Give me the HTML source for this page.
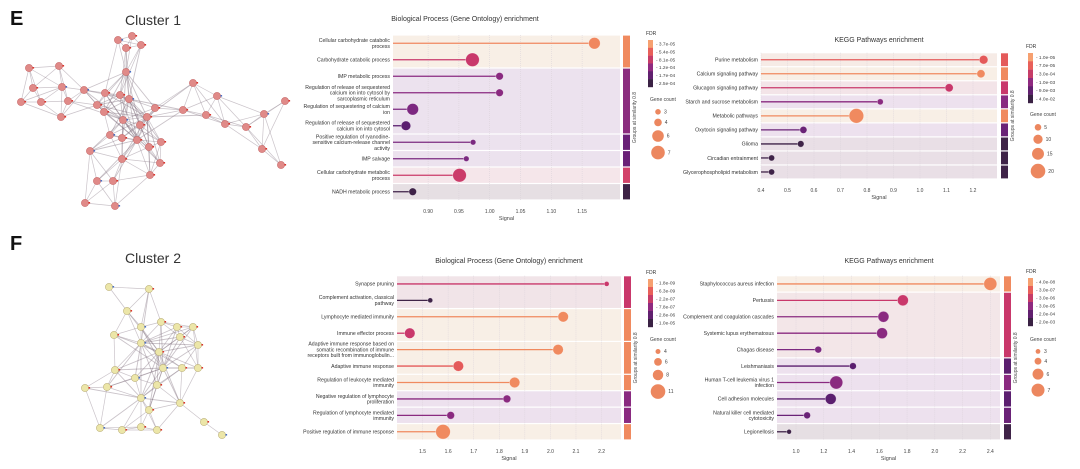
<!DOCTYPE html>
<html><head><meta charset="utf-8">
<style>
html,body{margin:0;padding:0;background:#fff;}
svg{display:block;font-family:"Liberation Sans",sans-serif;}
</style></head>
<body>
<svg id="fig" width="1080" height="469" viewBox="0 0 1080 469" xmlns="http://www.w3.org/2000/svg">
<text x="10" y="25" font-size="20" font-weight="bold" fill="#111">E</text>
<text x="153" y="25" font-size="14" fill="#333" text-anchor="middle">Cluster 1</text>
<text x="10" y="250" font-size="20" font-weight="bold" fill="#111">F</text>
<text x="153" y="263" font-size="14" fill="#333" text-anchor="middle">Cluster 2</text>
<g id="net1"></g>
<g id="net2"></g>
<g id="charts"></g>
</svg>
<script>
// ---- Chart data ----
const go1Labels = [["Cellular carbohydrate catabolic","process"],["Carbohydrate catabolic process"],["IMP metabolic process"],["Regulation of release of sequestered","calcium ion into cytosol by","sarcoplasmic reticulum"],["Regulation of sequestering of calcium","ion"],["Regulation of release of sequestered","calcium ion into cytosol"],["Positive regulation of ryanodine-","sensitive calcium-release channel","activity"],["IMP salvage"],["Cellular carbohydrate metabolic","process"],["NADH metabolic process"]];
const go1Signal = [1.17,0.972,1.016,1.016,0.875,0.864,0.973,0.962,0.951,0.875];
const go1Count = [6,7,4,4,6,5,3,3,7,4];
const go1Color = ["#f0875f","#c9386b","#8a2a80","#8a2a80","#7c2880","#5b1f6f","#7b2a80","#7b2a80","#cb3b69","#3f2348"];
const go1Groups = [2,4,1,1,1,1];
const go1GroupColor = ["#f08a5f","#8b2e7e","#6a2277","#6a2277","#d2436a","#3d2245"];
const go1GroupBg = ["#f8efe6","#ece2ee","#ece2ee","#ece2ee","#f5e6ea","#e6dfe3"];
const go1Ticks = [0.90,0.95,1.00,1.05,1.10,1.15];
const go1FdrTicks = ["3.7e-05","5.4e-05","8.1e-05","1.2e-04","1.7e-04","2.5e-04"];
const go1CountTicks = [3,4,6,7];

const kg1Labels = [["Purine metabolism"],["Calcium signaling pathway"],["Glucagon signaling pathway"],["Starch and sucrose metabolism"],["Metabolic pathways"],["Oxytocin signaling pathway"],["Glioma"],["Circadian entrainment"],["Glycerophospholipid metabolism"]];
const kg1Signal = [1.24,1.23,1.11,0.85,0.76,0.56,0.55,0.44,0.44];
const kg1Count = [9,8,8,4,20,6,5,4,4];
const kg1Color = ["#e45a5a","#f08a5f","#c9386b","#8a2a80","#f08a5f","#6a2277","#3f2348","#3f2348","#3f2348"];
const kg1Groups = [1,1,1,1,1,1,1,1,1];
const kg1GroupColor = ["#e45a5a","#f08a5f","#c9386b","#8a2a80","#f08a5f","#6a2277","#3f2348","#3f2348","#3f2348"];
const kg1GroupBg = ["#f6ebe6","#f8efe6","#f3e4e8","#ede1ee","#f8efe6","#ede1ee","#e9dfe6","#e9dfe6","#e9dfe6"];
const kg1Ticks = [0.4,0.5,0.6,0.7,0.8,0.9,1.0,1.1,1.2];
const kg1FdrTicks = ["1.0e-05","7.0e-05","3.0e-04","1.0e-03","9.0e-03","4.0e-02"];
const kg1CountTicks = [5,10,15,20];

const go2Labels = [["Synapse pruning"],["Complement activation, classical","pathway"],["Lymphocyte mediated immunity"],["Immune effector process"],["Adaptive immune response based on","somatic recombination of immune","receptors built from immunoglobulin..."],["Adaptive immune response"],["Regulation of leukocyte mediated","immunity"],["Negative regulation of lymphocyte","proliferation"],["Regulation of lymphocyte mediated","immunity"],["Positive regulation of immune response"]];
const go2Signal = [2.22,1.53,2.05,1.45,2.03,1.64,1.86,1.83,1.61,1.58];
const go2Count = [4,4,8,8,8,8,8,6,6,11];
const go2Color = ["#c9386b","#3f2348","#f08a5f","#c9386b","#f08a5f","#e45a5a","#f08a5f","#8a2a80","#8a2a80","#f08a5f"];
const go2Groups = [2,2,2,1,1,1,1];
const go2GroupColor = ["#c9386b","#f08a5f","#f08a5f","#f08a5f","#8a2a80","#8a2a80","#f08a5f"];
const go2GroupBg = ["#f1e4e8","#f8efe6","#f8efe6","#f8efe6","#ede1ee","#ede1ee","#f8efe6"];
const go2Ticks = [1.5,1.6,1.7,1.8,1.9,2.0,2.1,2.2];
const go2FdrTicks = ["1.8e-09","6.3e-09","2.2e-07","7.8e-07","2.8e-06","1.0e-05"];
const go2CountTicks = [4,6,8,11];

const kg2Labels = [["Staphylococcus aureus infection"],["Pertussis"],["Complement and coagulation cascades"],["Systemic lupus erythematosus"],["Chagas disease"],["Leishmaniasis"],["Human T-cell leukemia virus 1","infection"],["Cell adhesion molecules"],["Natural killer cell mediated","cytotoxicity"],["Legionellosis"]];
const kg2Signal = [2.40,1.77,1.63,1.62,1.16,1.41,1.29,1.25,1.08,0.95];
const kg2Count = [7,6,6,6,4,4,7,6,4,3];
const kg2Color = ["#f08a5f","#c9386b","#8a2a80","#8a2a80","#7c2880","#5b1f6f","#8a2a80","#5b1f6f","#6a2277","#3f2348"];
const kg2Groups = [1,4,1,1,1,1,1];
const kg2GroupColor = ["#f08a5f","#c9386b","#5b1f6f","#8a2a80","#5b1f6f","#6a2277","#3f2348"];
const kg2GroupBg = ["#f8efe6","#f3e6e8","#ede1ee","#ede1ee","#ede1ee","#ede1ee","#e6dfe3"];
const kg2Ticks = [1.0,1.2,1.4,1.6,1.8,2.0,2.2,2.4];
const kg2FdrTicks = ["4.0e-08","3.0e-07","3.0e-06","3.0e-05","2.0e-04","2.0e-03"];
const kg2CountTicks = [3,4,6,7];

const palette = ["#f6a070","#e8605a","#c63d68","#8f2a80","#61206f","#3a2244"];
const NS = "http://www.w3.org/2000/svg";
function mk(tag, attrs, parent){const e=document.createElementNS(NS,tag);for(const k in attrs)e.setAttribute(k,attrs[k]);parent.appendChild(e);return e;}

function chart(cfg){
  const root=document.getElementById('charts');
  const g=mk('g',{},root);
  
  
  const n=cfg.labels.length, rowH=(cfg.y1-cfg.y0)/n;
  const xs=v=>cfg.x0+(v-cfg.v0)*cfg.k;
  const ys=i=>cfg.y0+rowH*(i+0.5);
  const rs=c=>cfg.r0+(c-cfg.c0)/(cfg.c1-cfg.c0)*(cfg.r1-cfg.r0);
  const t=mk('text',{x:cfg.tx,y:cfg.ty,'font-size':7,fill:'#333','text-anchor':'middle'},g);
  t.textContent=cfg.title;
  
  
  let idx=0;
  cfg.groups.forEach((gs,j)=>{
    const yA=cfg.y0+idx*rowH, h=gs*rowH;
    const bg=mk('rect',{x:cfg.x0,y:yA+0.6,width:cfg.xe-cfg.x0,height:h-1.2,fill:cfg.gbg[j]},g);
    
    
    const gb=mk('rect',{x:cfg.gx,y:yA+0.6,width:7,height:h-1.2,fill:cfg.gcol[j]},g);
    
    
    idx+=gs;
  });
  cfg.ticks.forEach(v=>{
    const x=xs(v);
    mk('line',{x1:x,x2:x,y1:cfg.y0,y2:cfg.y1,stroke:'#d8d0d8','stroke-width':0.5,'stroke-dasharray':'1,1'},g);
    const tl=mk('text',{x:x,y:cfg.y1+13,'font-size':5,fill:'#444','text-anchor':'middle'},g);
    tl.textContent=v.toFixed(cfg.dec);
    
    
  });
  const sl=mk('text',{x:(cfg.x0+cfg.xe)/2,y:cfg.y1+20,'font-size':5.5,fill:'#444','text-anchor':'middle'},g);
  sl.textContent='Signal';
  
  
  cfg.labels.forEach((lab,i)=>{
    const y=ys(i), x=xs(cfg.vals[i]), c=cfg.cols[i];
    const ln=mk('line',{x1:cfg.x0,x2:x,y1:y,y2:y,stroke:c,'stroke-width':1.3},g);
    
    
    const dt=mk('circle',{cx:x,cy:y,r:rs(cfg.counts[i]),fill:c,stroke:'#fff','stroke-opacity':0.5,'stroke-width':0.6},g);
    
    
    lab.forEach((s,l)=>{
      const tt=mk('text',{x:cfg.x0-3,y:y+1.8+(l-(lab.length-1)/2)*5.8,'font-size':5.2,fill:'#333','text-anchor':'end'},g);
      tt.textContent=s;
      
      
    });
  });
  const gl=mk('text',{x:0,y:0,'font-size':5,fill:'#444','text-anchor':'middle',transform:`translate(${cfg.gx+13},${(cfg.y0+cfg.y1)/2}) rotate(-90)`},g);
  gl.textContent='Groups at similarity 0.8';
  
  
  const lx=cfg.lx, ly=cfg.ly;
  const ft=mk('text',{x:lx-2,y:ly,'font-size':5,fill:'#333'},g); ft.textContent='FDR';
  
  
  const bh=cfg.lh/6;
  cfg.fdr.forEach((s,i)=>{
    mk('rect',{x:lx,y:ly+5+i*bh,width:5,height:bh+0.2,fill:palette[i]},g);
    const tl=mk('text',{x:lx+8,y:ly+5+(i+0.5)*bh+1.7,'font-size':4.8,fill:'#444'},g);
    tl.textContent='- '+s;
    
    
  });
  const gt=mk('text',{x:lx+2,y:cfg.gy,'font-size':5,fill:'#444'},g); gt.textContent='Gene count';
  
  
  let cy=cfg.gy+6;
  cfg.cticks.forEach(c=>{
    const r=rs(c); cy+=r+2;
    const lc=mk('circle',{cx:lx+10,cy:cy,r:r,fill:'#ec875f'},g);
    
    
    const lt=mk('text',{x:lx+10+Math.max(r,3)+3,y:cy+1.7,'font-size':5,fill:'#444'},g); lt.textContent=c;
    cy+=r+2;
  });
}

chart({name:'go-chart-cluster-1',title:'Biological Process (Gene Ontology) enrichment',tx:465,ty:21,labels:go1Labels,vals:go1Signal,counts:go1Count,cols:go1Color,groups:go1Groups,gcol:go1GroupColor,gbg:go1GroupBg,ticks:go1Ticks,dec:2,fdr:go1FdrTicks,cticks:go1CountTicks,
  x0:393,xe:620,v0:0.843,k:616,y0:35,y1:200,gx:623,r0:2.8,r1:6.8,c0:3,c1:7,lx:648,ly:35,lh:47,gy:101});
chart({name:'kegg-chart-cluster-1',title:'KEGG Pathways enrichment',tx:879,ty:42,labels:kg1Labels,vals:kg1Signal,counts:kg1Count,cols:kg1Color,groups:kg1Groups,gcol:kg1GroupColor,gbg:kg1GroupBg,ticks:kg1Ticks,dec:1,fdr:kg1FdrTicks,cticks:kg1CountTicks,
  x0:761,xe:997,v0:0.4,k:265,y0:52.7,y1:179,gx:1001,r0:3.3,r1:7.3,c0:5,c1:20,lx:1028,ly:48,lh:50,gy:116});
chart({name:'go-chart-cluster-2',title:'Biological Process (Gene Ontology) enrichment',tx:509,ty:263,labels:go2Labels,vals:go2Signal,counts:go2Count,cols:go2Color,groups:go2Groups,gcol:go2GroupColor,gbg:go2GroupBg,ticks:go2Ticks,dec:1,fdr:go2FdrTicks,cticks:go2CountTicks,
  x0:397,xe:621,v0:1.40,k:255.7,y0:275.7,y1:440,gx:624,r0:2.5,r1:7.3,c0:4,c1:11,lx:648,ly:274,lh:48,gy:341});
chart({name:'kegg-chart-cluster-2',title:'KEGG Pathways enrichment',tx:889,ty:263,labels:kg2Labels,vals:kg2Signal,counts:kg2Count,cols:kg2Color,groups:kg2Groups,gcol:kg2GroupColor,gbg:kg2GroupBg,ticks:kg2Ticks,dec:1,fdr:kg2FdrTicks,cticks:kg2CountTicks,
  x0:777,xe:1000,v0:0.863,k:138.8,y0:275.7,y1:440,gx:1004,r0:2.4,r1:6.5,c0:3,c1:7,lx:1028,ly:273,lh:48,gy:341});

// ---- Networks ----
const net1Nodes=[[118,40],[132,36],[141,45],[126,48],[126,72],[29,68],[59,66],[33,88],[62,87],[21,102],[41,102],[68,101],[84,90],[97,105],[105,93],[120,95],[129,99],[104,112],[155,108],[147,117],[123,120],[61,117],[193,83],[183,110],[217,96],[206,115],[225,124],[246,127],[264,114],[285,101],[262,149],[281,165],[110,135],[122,138],[137,140],[149,147],[90,151],[122,159],[161,142],[160,163],[97,181],[113,181],[150,175],[85,203],[115,206],[140,125]];
const net2Nodes=[[109,287],[149,289],[127,311],[161,322],[141,327],[177,327],[193,327],[114,335],[141,343],[180,337],[198,345],[159,352],[163,368],[182,368],[198,368],[115,370],[135,378],[157,385],[107,387],[85,388],[141,398],[180,403],[149,410],[204,422],[100,428],[122,430],[141,427],[157,430],[222,435]];
function drawNet(id,nodes,fill,stroke,k,maxd,hubs){
  const g=document.getElementById(id);
  const seen={};
  function edge(i,j,w){const key=Math.min(i,j)+'_'+Math.max(i,j);if(seen[key]||i===j)return;seen[key]=1;const a=nodes[i],b=nodes[j];
    mk('line',{x1:a[0],y1:a[1],x2:b[0],y2:b[1],stroke:'#7a6a78','stroke-opacity':0.4,'stroke-width':w},g);}
  nodes.forEach((a,i)=>{
    const d=nodes.map((b,j)=>[Math.hypot(a[0]-b[0],a[1]-b[1]),j]).filter(p=>p[1]!==i).sort((p,q)=>p[0]-q[0]);
    d.slice(0,k).forEach(p=>{ if(p[0]<maxd) edge(i,p[1],0.7);});
  });
  hubs.forEach(h=>{nodes.forEach((b,j)=>{const dd=Math.hypot(nodes[h][0]-b[0],nodes[h][1]-b[1]);if(dd<60)edge(h,j,0.9);});});
  nodes.forEach((a,i)=>{
    const c=mk('circle',{cx:a[0],cy:a[1],r:3.6,fill:fill,stroke:stroke,'stroke-width':0.6},g);
    
    
    mk('rect',{x:a[0]+3.5,y:a[1]-1,width:1.6,height:1.6,fill:(i%4===0)?'#4a6fc4':'#d9342c'},g);
  });
}
drawNet('net1',net1Nodes,'#e08a88','#c86a6a',5,55,[16,20,34,19,4]);
drawNet('net2',net2Nodes,'#ece6a8','#bdb27a',5,45,[8,12,20,11]);
</script>
</body></html>
